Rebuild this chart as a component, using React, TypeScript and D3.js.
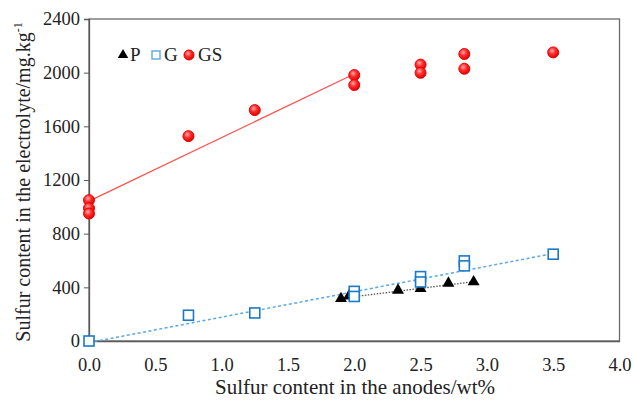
import { useRef, useEffect } from 'react';
import * as d3 from 'd3';

// sulfur content in anodes (wt%) vs sulfur in electrolyte (mg/kg)
const pX = [1.9, 1.96, 2.33, 2.5, 2.71, 2.9];
const pY = [309, 328, 371, 383, 423, 433];

const gX = [0, 0.75, 1.25, 2.0, 2.0, 2.5, 2.5, 2.83, 2.83, 3.5];
const gY = [0, 192, 209, 370, 332, 480, 440, 597, 560, 647];

const gsX = [0, 0, 0, 0.75, 1.25, 2.0, 2.0, 2.5, 2.5, 2.83, 2.83, 3.5];
const gsY = [1050, 990, 950, 1527, 1721, 1982, 1908, 2060, 1999, 2139, 2029, 2151];

// fitted trend lines (end points)
const gsFitX = [0, 2.0];
const gsFitY = [1042, 1990];
const gFitX = [0, 3.5];
const gFitY = [-12, 652];
const pFitX = [1.9, 2.9];
const pFitY = [318, 442];

const xTicks = [0, 0.5, 1.0, 1.5, 2.0, 2.5, 3.0, 3.5, 4.0];
const yTicks = [0, 400, 800, 1200, 1600, 2000, 2400];

const zip = (xs: number[], ys: number[]) => xs.map((x, i) => [x, ys[i]] as [number, number]);

export default function App() {
  const svgRef = useRef<SVGSVGElement>(null);

  const width = 633;
  const height = 400;
  const margin = { top: 19, right: 12, bottom: 59, left: 89 };
  const font = "'Liberation Serif', 'Times New Roman', serif";

  useEffect(() => {
    const svg = d3.select(svgRef.current);
    svg.selectAll('*').remove();

    const x = d3.scaleLinear().domain([0, 4]).range([margin.left, width - margin.right - 1.5]);
    const y = d3.scaleLinear().domain([0, 2400]).range([height - margin.bottom, margin.top]);

    const defs = svg.append('defs');
    const grad = defs.append('radialGradient')
      .attr('id', 'ball').attr('cx', '40%').attr('cy', '35%').attr('r', '65%');
    grad.append('stop').attr('offset', '0%').attr('stop-color', '#ffb0b0');
    grad.append('stop').attr('offset', '45%').attr('stop-color', '#ff3030');
    grad.append('stop').attr('offset', '100%').attr('stop-color', '#e00000');

    // frame
    svg.append('rect')
      .attr('x', x(0)).attr('y', y(2400))
      .attr('width', x(4) - x(0)).attr('height', y(0) - y(2400))
      .attr('fill', 'none').attr('stroke', '#6a6a6a').attr('stroke-width', 1.3);

    const yAxis = svg.append('g')
      .attr('transform', `translate(${x(0)},0)`)
      .call(d3.axisLeft(y).tickValues(yTicks).tickSize(5).tickFormat(d3.format('d')));
    yAxis.select('.domain').attr('stroke', '#595959').attr('stroke-width', 1.3);
    yAxis.selectAll('.tick line').attr('stroke', '#595959');
    yAxis.selectAll('.tick text')
      .style('font-family', font).style('font-size', '18.5px').attr('fill', '#222').attr('x', -9);

    const xAxis = svg.append('g')
      .attr('transform', `translate(0,${y(0)})`)
      .call(d3.axisBottom(x).tickValues(xTicks).tickSize(0).tickFormat(d3.format('.1f')));
    xAxis.select('.domain').attr('stroke', '#595959').attr('stroke-width', 1.3);
    xAxis.selectAll('.tick text')
      .style('font-family', font).style('font-size', '18.5px').attr('fill', '#222').attr('y', 17);

    // axis titles
    svg.append('text')
      .attr('x', 355).attr('y', 394)
      .attr('text-anchor', 'middle')
      .style('font-family', font).style('font-size', '21px').attr('fill', '#222')
      .text('Sulfur content in the anodes/wt%');

    const yt = svg.append('text')
      .attr('transform', `translate(30,${(y(0) + y(2400)) / 2 + 2}) rotate(-90)`)
      .attr('text-anchor', 'middle')
      .style('font-family', font).style('font-size', '20px').attr('fill', '#222');
    yt.append('tspan').text('Sulfur content in the electrolyte/mg.kg');
    yt.append('tspan').style('font-size', '12px').attr('dy', -8).text('-1');

    const line = d3.line<[number, number]>().x(d => x(d[0])).y(d => y(d[1]));

    // trend lines
    svg.append('path').datum(zip(gsFitX, gsFitY)).attr('d', line)
      .attr('fill', 'none').attr('stroke', '#ff5050').attr('stroke-width', 1.3);
    svg.append('path').datum(zip(gFitX, gFitY)).attr('d', line)
      .attr('fill', 'none').attr('stroke', '#5aa8e6').attr('stroke-width', 1.5)
      .attr('stroke-dasharray', '3,2.5');
    svg.append('path').datum(zip(pFitX, pFitY)).attr('d', line)
      .attr('fill', 'none').attr('stroke', '#555').attr('stroke-width', 1.3)
      .attr('stroke-dasharray', '1.5,1.5');

    const tri = d3.symbol().type(d3.symbolTriangle).size(62);

    // P
    svg.append('g').selectAll('path').data(zip(pX, pY)).join('path')
      .attr('d', tri)
      .attr('transform', d => `translate(${x(d[0])},${y(d[1]) - 1})`)
      .attr('fill', '#000');

    // G
    svg.append('g').selectAll('rect').data(zip(gX, gY)).join('rect')
      .attr('x', d => x(d[0]) - 5).attr('y', d => y(d[1]) - 5)
      .attr('width', 10).attr('height', 10)
      .attr('fill', 'white').attr('stroke', '#1c78c8').attr('stroke-width', 1.6);

    // GS
    svg.append('g').selectAll('circle').data(zip(gsX, gsY)).join('circle')
      .attr('cx', d => x(d[0])).attr('cy', d => y(d[1]))
      .attr('r', 5.5)
      .attr('fill', 'url(#ball)').attr('stroke', '#ee0000').attr('stroke-width', 1);

    // legend
    const lg = svg.append('g').style('font-family', font).style('font-size', '19px').attr('fill', '#222');
    lg.append('path').attr('d', d3.symbol().type(d3.symbolTriangle).size(48))
      .attr('transform', 'translate(123,55)').attr('fill', '#000');
    lg.append('text').attr('x', 130).attr('y', 61).text('P');
    lg.append('rect').attr('x', 152).attr('y', 51).attr('width', 8).attr('height', 8)
      .attr('fill', 'white').attr('stroke', '#5aa8e6').attr('stroke-width', 1.4);
    lg.append('text').attr('x', 164).attr('y', 61).text('G');
    lg.append('circle').attr('cx', 189).attr('cy', 55).attr('r', 5)
      .attr('fill', 'url(#ball)').attr('stroke', '#ee0000');
    lg.append('text').attr('x', 198).attr('y', 61).text('GS');
  }, []);

  return (
    <svg ref={svgRef} width={width} height={height} style={{ position: 'absolute', left: 0, top: 0, background: 'white' }} />
  );
}
